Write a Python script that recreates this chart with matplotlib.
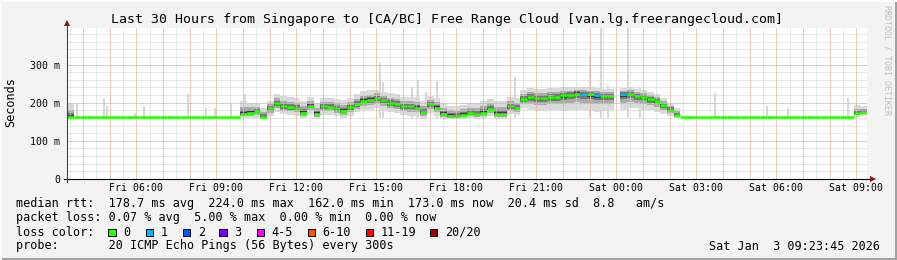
import numpy as np
import matplotlib
matplotlib.use('Agg')
import matplotlib.pyplot as plt
from matplotlib.patches import Rectangle
from matplotlib.lines import Line2D

# 15 minute steps over the last 30 hours (start Fri 03:23:45)
step = 0.25
median = ([162] * 26 +
          [170, 174, 177, 163, 185, 198, 190, 188, 186, 174, 192, 170, 190, 189, 185, 179,
           188, 196, 205, 208, 212, 206, 198, 196, 190, 190, 187, 176, 196, 187, 170, 165,
           164, 168, 172, 170, 174, 183, 170, 170, 190, 186, 210, 216, 212, 212, 215, 216,
           219, 221, 224, 223, 222, 220, 218, 218, np.nan, 222, 224, 218, 216, 209, 204, 194,
           182, 168] +
          [162] * 26 + [172, 175])
smoke_hi = ([198] + [162] * 25 +
            [205, 200, 200, 185, 205, 222, 218, 214, 212, 205, 215, 200, 212, 212, 210, 206,
             212, 222, 230, 232, 234, 228, 225, 222, 216, 215, 214, 205, 218, 212, 200, 192,
             190, 195, 198, 198, 205, 210, 205, 205, 214, 212, 232, 238, 236, 236, 238, 238,
             240, 240, 242, 242, 240, 238, 236, 236, np.nan, 238, 240, 236, 234, 228, 222, 212,
             200, 185] +
            [162] * 26 + [195, 192])
smoke_lo = ([162] * 26 +
            [160, 160, 160, 158, 165, 175, 170, 168, 166, 160, 170, 158, 168, 168, 165, 160,
             165, 175, 180, 182, 185, 180, 175, 172, 168, 166, 165, 158, 172, 165, 158, 156,
             156, 158, 160, 158, 160, 165, 158, 158, 170, 168, 185, 180, 178, 178, 180, 180,
             178, 180, 182, 180, 178, 176, 178, 180, np.nan, 182, 185, 185, 182, 180, 175, 170,
             165, 160] +
            [162] * 26 + [162, 165])
# number of lost pings (of 20) per step
loss = [0] * 120
for i in (77, 79, 83):
    loss[i] = 1

# isolated high pings (hours since start, ms)
spike_hours = [0.37, 1.39, 1.50, 2.55, 2.89, 4.54, 5.21, 5.55, 6.15, 6.68, 11.74, 11.85, 12.94,
               13.16, 13.46, 13.88, 16.80, 19.61, 20.02, 20.29, 21.04, 21.49, 24.30, 26.25,
               27.04, 29.29]
spike_tops = [196, 211, 190, 172, 192, 222, 185, 186, 200, 224, 305, 255, 240, 260, 229, 258,
              266, 325, 397, 243, 397, 240, 226, 190, 186, 213]

first_label = 2 + 36.25 / 60  # Fri 06:00
tick_labels = ['Fri 06:00', 'Fri 09:00', 'Fri 12:00', 'Fri 15:00', 'Fri 18:00', 'Fri 21:00',
               'Sat 00:00', 'Sat 03:00', 'Sat 06:00', 'Sat 09:00']
y_ticks = [0, 100, 200, 300]
y_labels = ['0', '100 m', '200 m', '300 m']

loss_names = ['0', '1', '2', '3', '4-5', '6-10', '11-19', '20/20']
loss_colors = ['#26ff00', '#00b8ff', '#0059ff', '#7e00ff', '#ff00ff', '#ff5500', '#ff0000', '#a10000']

W, H = 897, 260
def fx(x):
    return x / W
def fy(y):
    return 1 - y / H

mono = 'DejaVu Sans Mono'
fig = plt.figure(figsize=(W / 100, H / 100), dpi=100, facecolor='#f3f3f3')
ax = fig.add_axes([fx(67), fy(179), 800 / W, (179 - 27.5) / H])
ax.set_facecolor('white')
ax.set_xlim(0, 30)
ax.set_ylim(0, 397)

med = np.array(median, dtype=float)
hi = np.array(smoke_hi, dtype=float)
lo = np.array(smoke_lo, dtype=float)
t = np.arange(len(med)) * step

ax.bar(spike_hours, np.array(spike_tops) - 160, bottom=160, width=0.08, color='#d8d8d8',
       linewidth=0, zorder=1)
for frac, col in zip([1.0, 0.55, 0.3, 0.15], ['#dadada', '#aaaaaa', '#777777', '#3a3a3a']):
    top = med + (hi - med) * frac
    bot = med - (med - lo) * frac
    ax.bar(t, top - bot, bottom=bot, width=step, align='edge', color=col, linewidth=0, zorder=2)

# grid (dotted)
dots = (0, (1, 1))
gkw = dict(lw=0.72, ls=dots, zorder=3)
for x in np.arange(first_label - 2.5, 30, 0.5):
    ax.axvline(x, color='#d0d0d0', **gkw)
for y in range(20, 397, 20):
    ax.axhline(y, color='#d0d0d0', **gkw)
for x in np.arange(first_label - 2, 30, 1.0):
    ax.axvline(x, color='#f2a4a4', **gkw)
for y in y_ticks[1:]:
    ax.axhline(y, color='#f2a4a4', **gkw)

ax.hlines(med, t, t + step, colors=[loss_colors[l] for l in loss], lw=1.9, zorder=4)

for s in ax.spines.values():
    s.set_visible(False)
ax.set_xticks([first_label + 3 * k for k in range(len(tick_labels))])
ax.set_xticklabels(tick_labels, family=mono, fontsize=7.1)
ax.set_yticks(y_ticks)
ax.set_yticklabels(y_labels, family=mono, fontsize=7.1)
ax.tick_params(length=0, pad=3)
ax.tick_params(axis='y', pad=5)

# axes with arrows
fig.add_artist(Line2D([fx(64), fx(870)], [fy(179), fy(179)], color='black', lw=0.8))
fig.add_artist(Line2D([fx(67), fx(67)], [fy(182), fy(24)], color='#404040', lw=0.8))
fig.add_artist(Line2D([fx(873)], [fy(179)], marker='>', ms=4.5, color='#8b1010', mew=0))
fig.add_artist(Line2D([fx(67)], [fy(23)], marker='^', ms=4.5, color='#8b1010', mew=0))

fig.text(fx(447), fy(19), 'Last 30 Hours from Singapore to [CA/BC] Free Range Cloud '
         '[van.lg.freerangecloud.com]', family=mono, fontsize=9.5, ha='center', va='center')
fig.text(fx(11), fy(102), 'Seconds', family=mono, fontsize=8.5, rotation=90,
         ha='center', va='center')
fig.text(fx(887), fy(60), 'RRDTOOL / TOBI OETIKER', family=mono, fontsize=6,
         rotation=270, color='#bdbdbd', ha='center', va='center')

fig.text(fx(16), fy(204), 'median rtt:  178.7 ms avg  224.0 ms max  162.0 ms min  '
         '173.0 ms now  20.4 ms sd  8.8   am/s', family=mono, fontsize=8.5, va='center')
fig.text(fx(16), fy(218), 'packet loss: 0.07 % avg  5.00 % max  0.00 % min  0.00 % now',
         family=mono, fontsize=8.5, va='center')
fig.text(fx(16), fy(232), 'loss color:', family=mono, fontsize=8.5, va='center')
box_x = [108.3, 145.7, 182.7, 219.3, 256.7, 307.7, 366, 430]
for bx, name, col in zip(box_x, loss_names, loss_colors):
    fig.add_artist(Rectangle((fx(bx), fy(235.8)), 7.3 / W, 7.3 / H, facecolor=col,
                             edgecolor='black', lw=0.7))
    fig.text(fx(bx + 15), fy(232), name, family=mono, fontsize=8.5, va='center')
fig.text(fx(16), fy(246), 'probe:       20 ICMP Echo Pings (56 Bytes) every 300s',
         family=mono, fontsize=8.5, va='center')
fig.text(fx(880), fy(246), 'Sat Jan  3 09:23:45 2026', family=mono, fontsize=8.5,
         va='center', ha='right')

# 3d frame
fig.add_artist(Rectangle((0, 0), 1, 2.5 / H, facecolor='#a0a0a0', lw=0))
fig.add_artist(Rectangle((1 - 2.5 / W, 0), 2.5 / W, 1, facecolor='#a0a0a0', lw=0))
fig.add_artist(Rectangle((0, 1 - 1.5 / H), 1, 1.5 / H, facecolor='#fcfcfc', lw=0))
fig.add_artist(Rectangle((0, 0), 1.5 / W, 1, facecolor='#fcfcfc', lw=0))

fig.savefig('out.png', dpi=100, facecolor=fig.get_facecolor())
